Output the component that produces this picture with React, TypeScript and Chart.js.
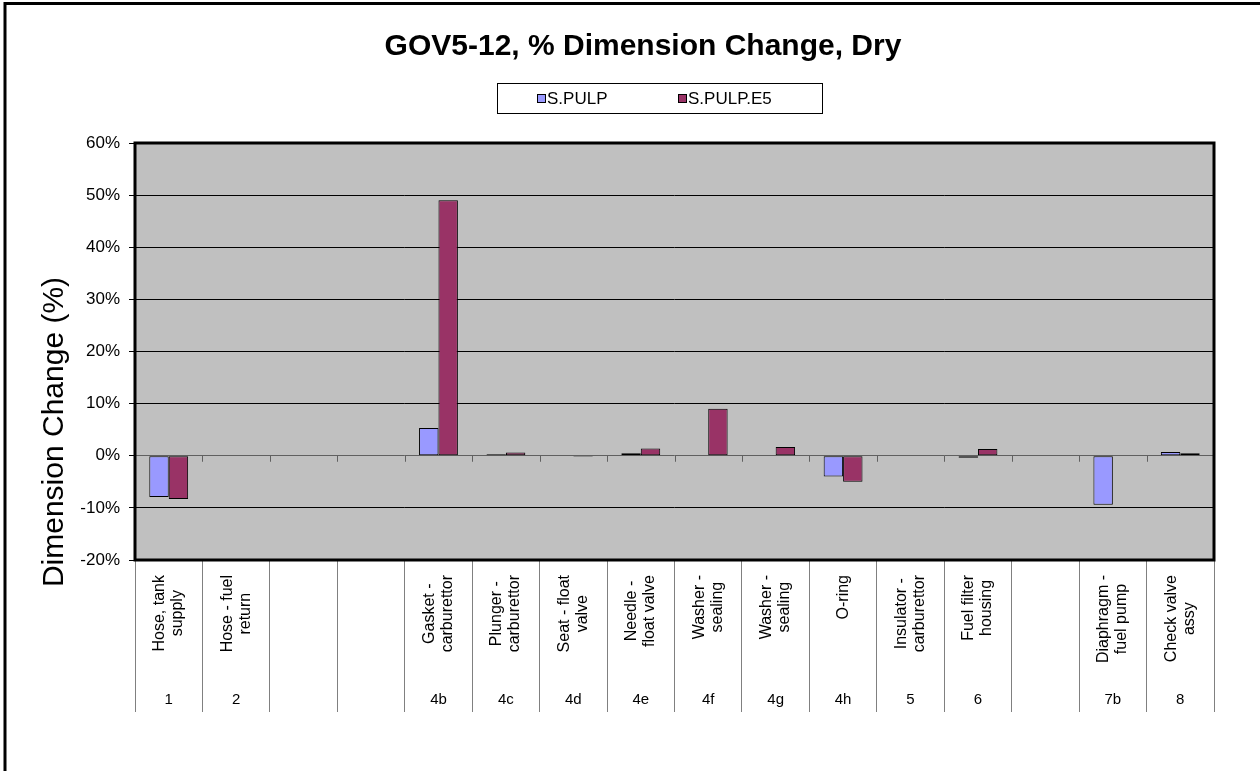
import React, { useEffect, useRef } from "react";
import { Chart, registerables } from "chart.js";

Chart.register(...registerables);

const TITLE = "GOV5-12, % Dimension Change, Dry";
const Y_TITLE = "Dimension Change (%)";

const categoryCodes = ["1", "2", "", "", "4b", "4c", "4d", "4e", "4f", "4g", "4h", "5", "6", "", "7b", "8"];
const categoryNames: string[][] = [
  ["Hose, tank", "supply"],
  ["Hose - fuel", "return"],
  [],
  [],
  ["Gasket -", "carburettor"],
  ["Plunger -", "carburettor"],
  ["Seat - float", "valve"],
  ["Needle -", "float valve"],
  ["Washer -", "sealing"],
  ["Washer -", "sealing"],
  ["O-ring"],
  ["Insulator -", "carburettor"],
  ["Fuel filter", "housing"],
  [],
  ["Diaphragm -", "fuel pump"],
  ["Check valve", "assy"],
];

const seriesNames = ["S.PULP", "S.PULP.E5"];
const seriesColors = ["#9999FF", "#993366"];
const sPulp = [-7.9, null, null, null, 5.3, 0.3, null, 0.5, null, null, -4.0, -0.1, -0.4, null, -9.4, 0.7];
const sPulpE5 = [-8.3, null, null, null, 49.0, 0.6, -0.2, 1.4, 9.0, 1.7, -5.0, null, 1.3, null, null, 0.5];

const yMin = -20;
const yMax = 60;
const yStep = 10;

const FONT = "'Liberation Sans', Arial, Helvetica, sans-serif";

export default function App() {
  const ref = useRef<HTMLCanvasElement>(null);

  useEffect(() => {
    const canvas = ref.current;
    if (!canvas) return;

    const decor = {
      id: "decor",
      beforeDraw(chart: any) {
        const { ctx, chartArea: a, width, height } = chart;
        ctx.save();
        ctx.fillStyle = "#ffffff";
        ctx.fillRect(0, 0, width, height);
        ctx.fillStyle = "#C0C0C0";
        ctx.fillRect(a.left, a.top, a.right - a.left, a.bottom - a.top);
        ctx.strokeStyle = "#000";
        ctx.lineWidth = 3;
        ctx.beginPath();
        ctx.moveTo(5, height);
        ctx.lineTo(5, 3.5);
        ctx.lineTo(width, 3.5);
        ctx.stroke();
        ctx.restore();
      },
      afterDraw(chart: any) {
        const { ctx, chartArea: a } = chart;
        const xs = chart.scales.x;
        const ys = chart.scales.y;
        ctx.save();

        // zero-line category ticks
        const y0 = ys.getPixelForValue(0);
        const n = categoryCodes.length;
        const step = xs.getPixelForValue(1) - xs.getPixelForValue(0);
        ctx.strokeStyle = "#606060";
        ctx.lineWidth = 1;
        for (let i = 1; i < n; i++) {
          const x = Math.round(xs.getPixelForValue(i) - step / 2) + 0.5;
          ctx.beginPath();
          ctx.moveTo(x, y0);
          ctx.lineTo(x, y0 + 6);
          ctx.stroke();
        }

        // plot frame
        ctx.strokeStyle = "#000";
        ctx.lineWidth = 3;
        ctx.strokeRect(a.left, a.top, a.right - a.left, a.bottom - a.top);

        // rotated category names
        ctx.fillStyle = "#000";
        ctx.font = `16px ${FONT}`;
        ctx.textAlign = "center";
        ctx.textBaseline = "middle";
        const lh = 18;
        categoryNames.forEach((lines, i) => {
          if (!lines.length) return;
          const xc = xs.getPixelForValue(i);
          const maxW = Math.max(...lines.map((l) => ctx.measureText(l).width));
          const yc = a.bottom + 15 + maxW / 2;
          lines.forEach((line, j) => {
            const off = (j - (lines.length - 1) / 2) * lh;
            ctx.save();
            ctx.translate(xc + off, yc);
            ctx.rotate(-Math.PI / 2);
            ctx.fillText(line, 0, 0);
            ctx.restore();
          });
        });

        // title
        ctx.font = `bold 30px ${FONT}`;
        ctx.textAlign = "center";
        ctx.textBaseline = "alphabetic";
        ctx.fillText(TITLE, 643, 55);

        // y axis title
        ctx.font = `30px ${FONT}`;
        ctx.save();
        ctx.translate(63, 432);
        ctx.rotate(-Math.PI / 2);
        ctx.fillText(Y_TITLE, 0, 0);
        ctx.restore();

        // legend
        ctx.lineWidth = 1;
        ctx.strokeStyle = "#000";
        ctx.strokeRect(497.5, 83.5, 325, 30);
        ctx.font = `17px ${FONT}`;
        ctx.textAlign = "left";
        ctx.textBaseline = "middle";
        const legendX = [537, 678];
        seriesNames.forEach((name, k) => {
          const lx = legendX[k];
          ctx.fillStyle = seriesColors[k];
          ctx.fillRect(lx, 94, 9, 9);
          ctx.strokeRect(lx + 0.5, 94.5, 8, 8);
          ctx.fillStyle = "#000";
          ctx.fillText(name, lx + 10, 99);
        });

        ctx.restore();
      },
    };

    const chart = new Chart(canvas, {
      type: "bar",
      data: {
        labels: categoryCodes,
        datasets: [
          {
            label: seriesNames[0],
            data: sPulp,
            backgroundColor: seriesColors[0],
            borderColor: "#000",
            borderWidth: 1,
            borderSkipped: false,
          },
          {
            label: seriesNames[1],
            data: sPulpE5,
            backgroundColor: seriesColors[1],
            borderColor: "#000",
            borderWidth: 1,
            borderSkipped: false,
          },
        ],
      },
      options: {
        responsive: false,
        animation: false,
        layout: { padding: { left: 0, right: 46, top: 143, bottom: 0 } },
        datasets: { bar: { categoryPercentage: 0.576, barPercentage: 1 } },
        plugins: {
          legend: { display: false },
          title: { display: false },
          tooltip: { enabled: false },
        },
        scales: {
          x: {
            type: "category",
            offset: true,
            border: { display: false },
            grid: {
              display: true,
              drawOnChartArea: false,
              drawTicks: true,
              tickLength: 152,
              offset: true,
              lineWidth: 1,
              tickColor: (c: any) => (c.index === categoryCodes.length ? "#000" : "#808080"),
            },
            ticks: {
              color: "#000",
              font: { family: FONT, size: 15 },
              padding: -21,
              maxRotation: 0,
              minRotation: 0,
              autoSkip: false,
            },
            afterFit: (s: any) => {
              s.height = 211;
            },
          },
          y: {
            min: yMin,
            max: yMax,
            border: { display: false },
            grid: {
              color: (c: any) => (c.tick && c.tick.value === 0 ? "#606060" : "#000"),
              tickColor: "#000",
              tickLength: 6,
              lineWidth: 1,
            },
            ticks: {
              stepSize: yStep,
              color: "#000",
              font: { family: FONT, size: 17 },
              padding: 9,
              callback: (v: any) => `${v}%`,
            },
            afterFit: (s: any) => {
              s.width = 135;
            },
          },
        },
      },
      plugins: [decor],
    } as any);

    return () => chart.destroy();
  }, []);

  return (
    <div style={{ position: "absolute", left: 0, top: 0, width: 1260, height: 771 }}>
      <canvas ref={ref} width={1260} height={771} style={{ display: "block" }} />
    </div>
  );
}
